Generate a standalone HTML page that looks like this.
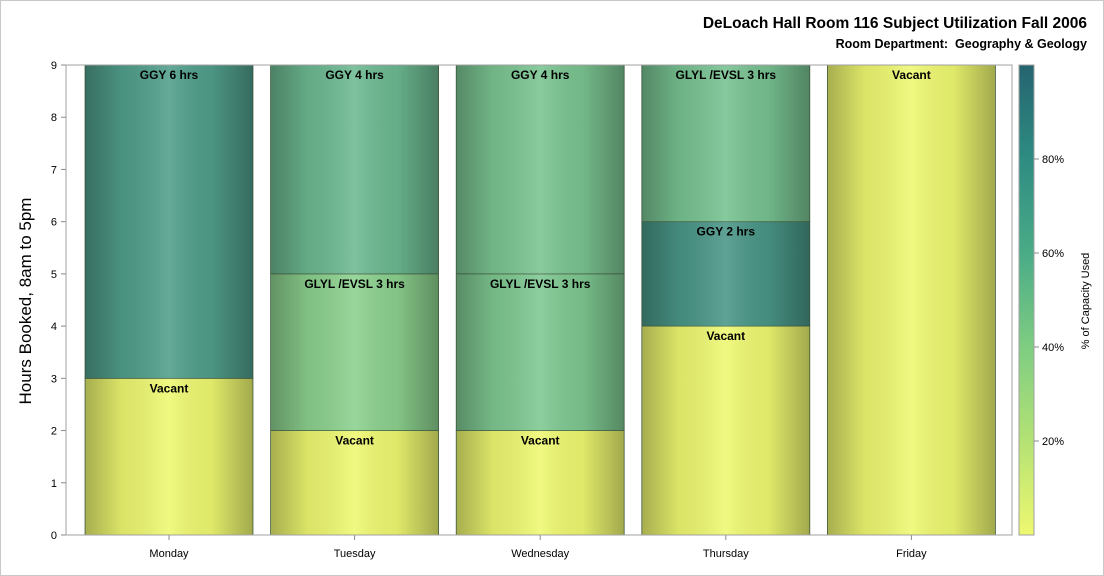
<!DOCTYPE html>
<html><head><meta charset="utf-8"><style>
body{margin:0;background:#fff;font-family:"Liberation Sans",Arial,sans-serif}
#wrap{position:relative;width:1102px;height:574px;border:1px solid #c8c8c8;overflow:hidden}
</style></head><body>
<div id="wrap">
<svg id="chart" width="1102" height="574" xmlns="http://www.w3.org/2000/svg">
<defs>
<linearGradient id="shade" x1="0" x2="1" y1="0" y2="0">
<stop offset="0" stop-color="#000" stop-opacity="0.3"/>
<stop offset="0.22" stop-color="#000" stop-opacity="0.08"/>
<stop offset="0.5" stop-color="#fff" stop-opacity="0.12"/>
<stop offset="0.75" stop-color="#000" stop-opacity="0.06"/>
<stop offset="1" stop-color="#000" stop-opacity="0.32"/>
</linearGradient>
<linearGradient id="cbar" x1="0" x2="0" y1="1" y2="0">
<stop offset="0" stop-color="#eef870"/>
<stop offset="0.2" stop-color="#b4e274"/>
<stop offset="0.4" stop-color="#7ecd82"/>
<stop offset="0.6" stop-color="#4aab87"/>
<stop offset="0.8" stop-color="#2e8c82"/>
<stop offset="1" stop-color="#256470"/>
</linearGradient>
</defs>
<text x="1086" y="27" text-anchor="end" font-size="15.5" font-weight="bold">DeLoach Hall Room 116 Subject Utilization Fall 2006</text>
<text x="1086" y="47" text-anchor="end" font-size="12.5" font-weight="bold" xml:space="preserve">Room Department:  Geography &amp; Geology</text>
<text transform="translate(30,300) rotate(-90)" text-anchor="middle" font-size="17">Hours Booked, 8am to 5pm</text>
<g id="plot"></g>
<rect x="65" y="64" width="946" height="470" fill="none" stroke="#a0a0a0"/>
<rect x="1018" y="64" width="15" height="470" fill="url(#cbar)" stroke="#a0a0a0"/>
<g id="cticks"></g>
<text transform="translate(1088,300) rotate(-90)" text-anchor="middle" font-size="11">% of Capacity Used</text>
</svg>
</div>
<script>
const days=["Monday","Tuesday","Wednesday","Thursday","Friday"];
const segStart=[[0,3],[0,2,5],[0,2,5],[0,4,6],[0]];
const segEnd=[[3,9],[2,5,9],[2,5,9],[4,6,9],[9]];
const segLabel=[["Vacant","GGY 6 hrs"],["Vacant","GLYL /EVSL 3 hrs","GGY 4 hrs"],["Vacant","GLYL /EVSL 3 hrs","GGY 4 hrs"],["Vacant","GGY 2 hrs","GLYL /EVSL 3 hrs"],["Vacant"]];
const segPct=[[0,66],[0,38,52],[0,44,46],[0,70,47],[0]];
const yTicks=[0,1,2,3,4,5,6,7,8,9];
const cTicks=[20,40,60,80];
const NS="http://www.w3.org/2000/svg";
const X0=65,X1=1011,Y0=534,Y1=64;
const y=v=>Y0-(v/9)*(Y0-Y1);
const firstCenter=168, step=185.6;
const barW=168;
const cy=p=>534-p/100*470;
const stops=[[0,[238,248,112]],[20,[180,226,116]],[40,[135,207,145]],[60,[90,170,145]],[80,[55,130,125]],[100,[37,100,112]]];
function color(p){for(let i=0;i<stops.length-1;i++){const[a,ca]=stops[i],[b,cb]=stops[i+1];if(p<=b){const t=(p-a)/(b-a);return"rgb("+ca.map((c,k)=>Math.round(c+(cb[k]-c)*t)).join(",")+")";}}return"rgb(37,100,112)";}
function mk(tag,attrs,parent){const e=document.createElementNS(NS,tag);for(const k in attrs)e.setAttribute(k,attrs[k]);parent.appendChild(e);return e;}
const plot=document.getElementById("plot");
yTicks.forEach(t=>{
 const l=mk("line",{x1:X0-5,x2:X0,y1:y(t),y2:y(t),stroke:"#888"},plot);
 
 
 const tx=mk("text",{x:X0-9,y:y(t)+4,"text-anchor":"end","font-size":11},plot);
 
 
 tx.textContent=t;
});
days.forEach((d,i)=>{
 const cx=firstCenter+step*i,bx=cx-barW/2;
 segStart[i].forEach((s,j)=>{
  const e=segEnd[i][j];
  const r=mk("rect",{x:bx,y:y(e),width:barW,height:y(s)-y(e),fill:color(segPct[i][j]),stroke:"#4a6a4a","stroke-width":0.8},plot);
  
  
  const sh=mk("rect",{x:bx,y:y(e),width:barW,height:y(s)-y(e),fill:"url(#shade)"},plot);
  
  
  const t=mk("text",{x:cx,y:y(e)+14,"text-anchor":"middle","font-size":12,"font-weight":"bold"},plot);
  
  
  t.textContent=segLabel[i][j];
 });
 const tk=mk("line",{x1:cx,x2:cx,y1:Y0,y2:Y0+5,stroke:"#888"},plot);
 
 
 const xl=mk("text",{x:cx,y:Y0+22,"text-anchor":"middle","font-size":11},plot);
 
 
 xl.textContent=d;
});
const cg=document.getElementById("cticks");
cTicks.forEach(p=>{
 const l=mk("line",{x1:1033,x2:1038,y1:cy(p),y2:cy(p),stroke:"#888"},cg);
 
 
 const t=mk("text",{x:1041,y:cy(p)+4,"font-size":11},cg);
 
 
 t.textContent=p+"%";
});
</script>
</body></html>
